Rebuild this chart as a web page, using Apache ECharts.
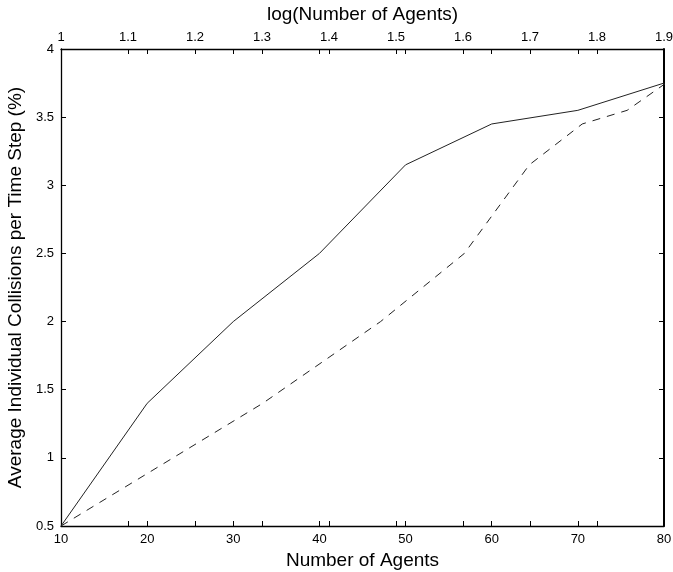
<!DOCTYPE html>
<html>
<head>
<meta charset="utf-8">
<script src="https://cdn.jsdelivr.net/npm/echarts@6/dist/echarts.min.js"></script>
<style>
html,body{margin:0;padding:0;background:#fff;}
#chart{width:673px;height:572px;}
</style>
</head>
<body>
<div id="chart"></div>
<script>
// Data
const agents = [10, 20, 30, 40, 50, 60, 70, 80];
const logAgents = [1.0, 1.301, 1.477, 1.602, 1.699, 1.778, 1.845, 1.903];
const collisions = [0.5, 1.4, 2.0, 2.5, 3.15, 3.45, 3.55, 3.75];

const FONT = 'Liberation Sans, Arial, sans-serif';
const axisLine = {show: true, lineStyle: {color: '#000', width: 1.3}};
const tickInside = {show: true, inside: true, length: 5, lineStyle: {color: '#000', width: 1}};
const labelStyle = {color: '#000', fontFamily: FONT, fontSize: 13};
const nameStyle = {color: '#000', fontFamily: FONT, fontSize: 19};

const chart = echarts.init(document.getElementById('chart'), null, {renderer: 'canvas'});
chart.setOption({
  animation: false,
  backgroundColor: '#fff',
  grid: {left: 61, right: 9, top: 49, bottom: 46, containLabel: false, outerBoundsMode: 'none'},
  xAxis: [
    {type: 'value', position: 'bottom', min: 10, max: 80, interval: 10,
     name: 'Number of Agents', nameLocation: 'middle', nameGap: 23, nameTextStyle: nameStyle,
     axisLine: axisLine, axisTick: tickInside, splitLine: {show: false},
     axisLabel: Object.assign({margin: 7}, labelStyle)},
    {type: 'value', position: 'top', min: 1, max: 1.9, interval: 0.1,
     name: 'log(Number of Agents)', nameLocation: 'middle', nameGap: 25, nameTextStyle: nameStyle,
     axisLine: axisLine, axisTick: tickInside, splitLine: {show: false},
     axisLabel: Object.assign({margin: 5, formatter: v => String(+v.toFixed(1))}, labelStyle)},
    {type: 'value', position: 'bottom', min: 1, max: 1.9, interval: 0.1,
     axisLine: {show: false}, axisTick: tickInside, splitLine: {show: false}, axisLabel: {show: false}},
    {type: 'value', position: 'top', min: 10, max: 80, interval: 10,
     axisLine: {show: false}, axisTick: tickInside, splitLine: {show: false}, axisLabel: {show: false}}
  ],
  yAxis: [
    {type: 'value', position: 'left', min: 0.5, max: 4, interval: 0.5,
     name: 'Average Individual Collisions per Time Step (%)', nameLocation: 'middle', nameGap: 34,
     nameTextStyle: nameStyle,
     axisLine: axisLine, axisTick: tickInside, splitLine: {show: false},
     axisLabel: Object.assign({margin: 7}, labelStyle)},
    {type: 'value', position: 'right', min: 0.5, max: 4, interval: 0.5,
     axisLine: {show: true, lineStyle: {color: '#000', width: 2}}, axisTick: tickInside,
     splitLine: {show: false}, axisLabel: {show: false}}
  ],
  series: [
    {type: 'line', xAxisIndex: 0, yAxisIndex: 0, showSymbol: false, symbol: 'none',
     data: agents.map((a, i) => [a, collisions[i]]),
     lineStyle: {color: '#222', width: 1, type: 'solid'}},
    {type: 'line', xAxisIndex: 1, yAxisIndex: 0, showSymbol: false, symbol: 'none',
     data: logAgents.map((a, i) => [a, collisions[i]]),
     lineStyle: {color: '#222', width: 1, type: [8, 7]}}
  ]
});
</script>
</body>
</html>
